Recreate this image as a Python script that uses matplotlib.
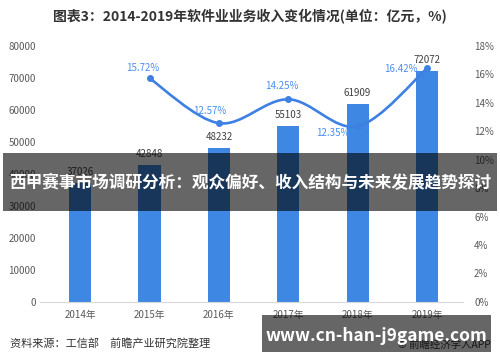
import matplotlib
matplotlib.use("Agg")
import matplotlib.pyplot as plt
from matplotlib.path import Path
import matplotlib.patches as patches
import numpy as np

plt.rcParams["font.family"] = ["Noto Sans CJK SC", "DejaVu Sans"]

years = ["2014年", "2015年", "2016年", "2017年", "2018年", "2019年"]
revenue = [37026, 42848, 48232, 55103, 61909, 72072]
growth_years = [1, 2, 3, 4, 5]
growth = [15.72, 12.57, 14.25, 12.35, 16.42]
# label offsets in pixels (dx, dy) for the growth labels
growth_offsets = [(-7, 10), (-9, 12), (-6, 13), (-25, -7), (-26, -1)]

BAR = "#3e87e2"
LINE = "#3f80e3"
LBL = "#4a8ff0"
TICK = "#595959"

fig = plt.figure(figsize=(5, 3.62), dpi=100)
ax = fig.add_axes([0.08, 0.166, 0.846, 0.707])
ax2 = ax.twinx()

x = np.arange(len(years))
ax.bar(x, revenue, width=0.32, color=BAR, zorder=2)
for xi, v in zip(x, revenue):
    ax.annotate(str(v), (xi, v), xytext=(0, 11), textcoords="offset pixels",
                ha="center", va="center", fontsize=7, color="#404040")

ax.set_xlim(-0.58, 5.52)
ax.set_ylim(0, 80000)
ax.set_yticks(range(0, 80001, 10000))
ax.set_xticks(x)
ax.set_xticklabels(years)
ax2.set_ylim(0, 18)
ax2.set_yticks(range(0, 19, 2))
ax2.set_yticklabels([f"{t}%" for t in range(0, 19, 2)])

for a in (ax, ax2):
    for s in a.spines.values():
        s.set_visible(False)
    a.tick_params(length=0, labelsize=7, colors=TICK)
ax.spines["bottom"].set_visible(True)
ax.spines["bottom"].set_color("#d9d9d9")
ax.tick_params(axis="y", pad=3)
ax.tick_params(axis="x", pad=6)
ax2.tick_params(axis="y", pad=8)

# smooth growth line (Catmull-Rom through the data points)
px = np.array(growth_years, dtype=float)
py = np.array(growth, dtype=float)
verts = [(px[0], py[0])]
codes = [Path.MOVETO]
n = len(px)
for i in range(n - 1):
    p0 = (px[max(i - 1, 0)], py[max(i - 1, 0)])
    p1 = (px[i], py[i])
    p2 = (px[i + 1], py[i + 1])
    p3 = (px[min(i + 2, n - 1)], py[min(i + 2, n - 1)])
    c1 = (p1[0] + (p2[0] - p0[0]) / 6, p1[1] + (p2[1] - p0[1]) / 6)
    c2 = (p2[0] - (p3[0] - p1[0]) / 6, p2[1] - (p3[1] - p1[1]) / 6)
    verts += [c1, c2, p2]
    codes += [Path.CURVE4] * 3
ax2.add_patch(patches.PathPatch(Path(verts, codes), facecolor="none",
                                edgecolor=LINE, lw=1.9, zorder=3))
ax2.plot(growth_years, growth, "o", color=LINE, ms=4, zorder=4)
for gx, gv, (dx, dy) in zip(growth_years, growth, growth_offsets):
    ax2.annotate(f"{gv:.2f}%", (gx, gv), xytext=(dx, dy),
                 textcoords="offset pixels", ha="center", va="center",
                 fontsize=7, color=LBL)

fig.text(0.5, 0.955, "图表3：2014-2019年软件业业务收入变化情况(单位：亿元，%)",
         ha="center", va="center", fontsize=10, fontweight="bold", color="#333333")
fig.text(0.02, 1 - 343 / 362, "资料来源：工信部　前瞻产业研究院整理",
         ha="left", va="center", fontsize=8, color="#333333")
fig.text(0.982, 1 - 345 / 362, "© 前瞻经济学人APP",
         ha="right", va="center", fontsize=7.5, color="#333333")

# overlay banners
fig.patches.append(patches.Rectangle((0.006, 1 - 211 / 362), 0.988, 58 / 362,
                                     transform=fig.transFigure, facecolor="black",
                                     edgecolor="none", alpha=0.6, zorder=10))
fig.text(0.5, 1 - 183 / 362, "西甲赛事市场调研分析：观众偏好、收入结构与未来发展趋势探讨",
         ha="center", va="center", fontsize=12, fontweight="bold",
         color="white", zorder=11)
fig.patches.append(patches.Rectangle((262 / 500, 1 - 352 / 362), 229 / 500, 37 / 362,
                                     transform=fig.transFigure, facecolor="black",
                                     edgecolor="none", alpha=0.6, zorder=10))
fig.text(376 / 500, 1 - 336 / 362, "www.cn-han-j9game.com",
         ha="center", va="center", fontsize=12.5, fontweight="bold",
         color="white", zorder=11)

fig.savefig("out.png", dpi=100)
